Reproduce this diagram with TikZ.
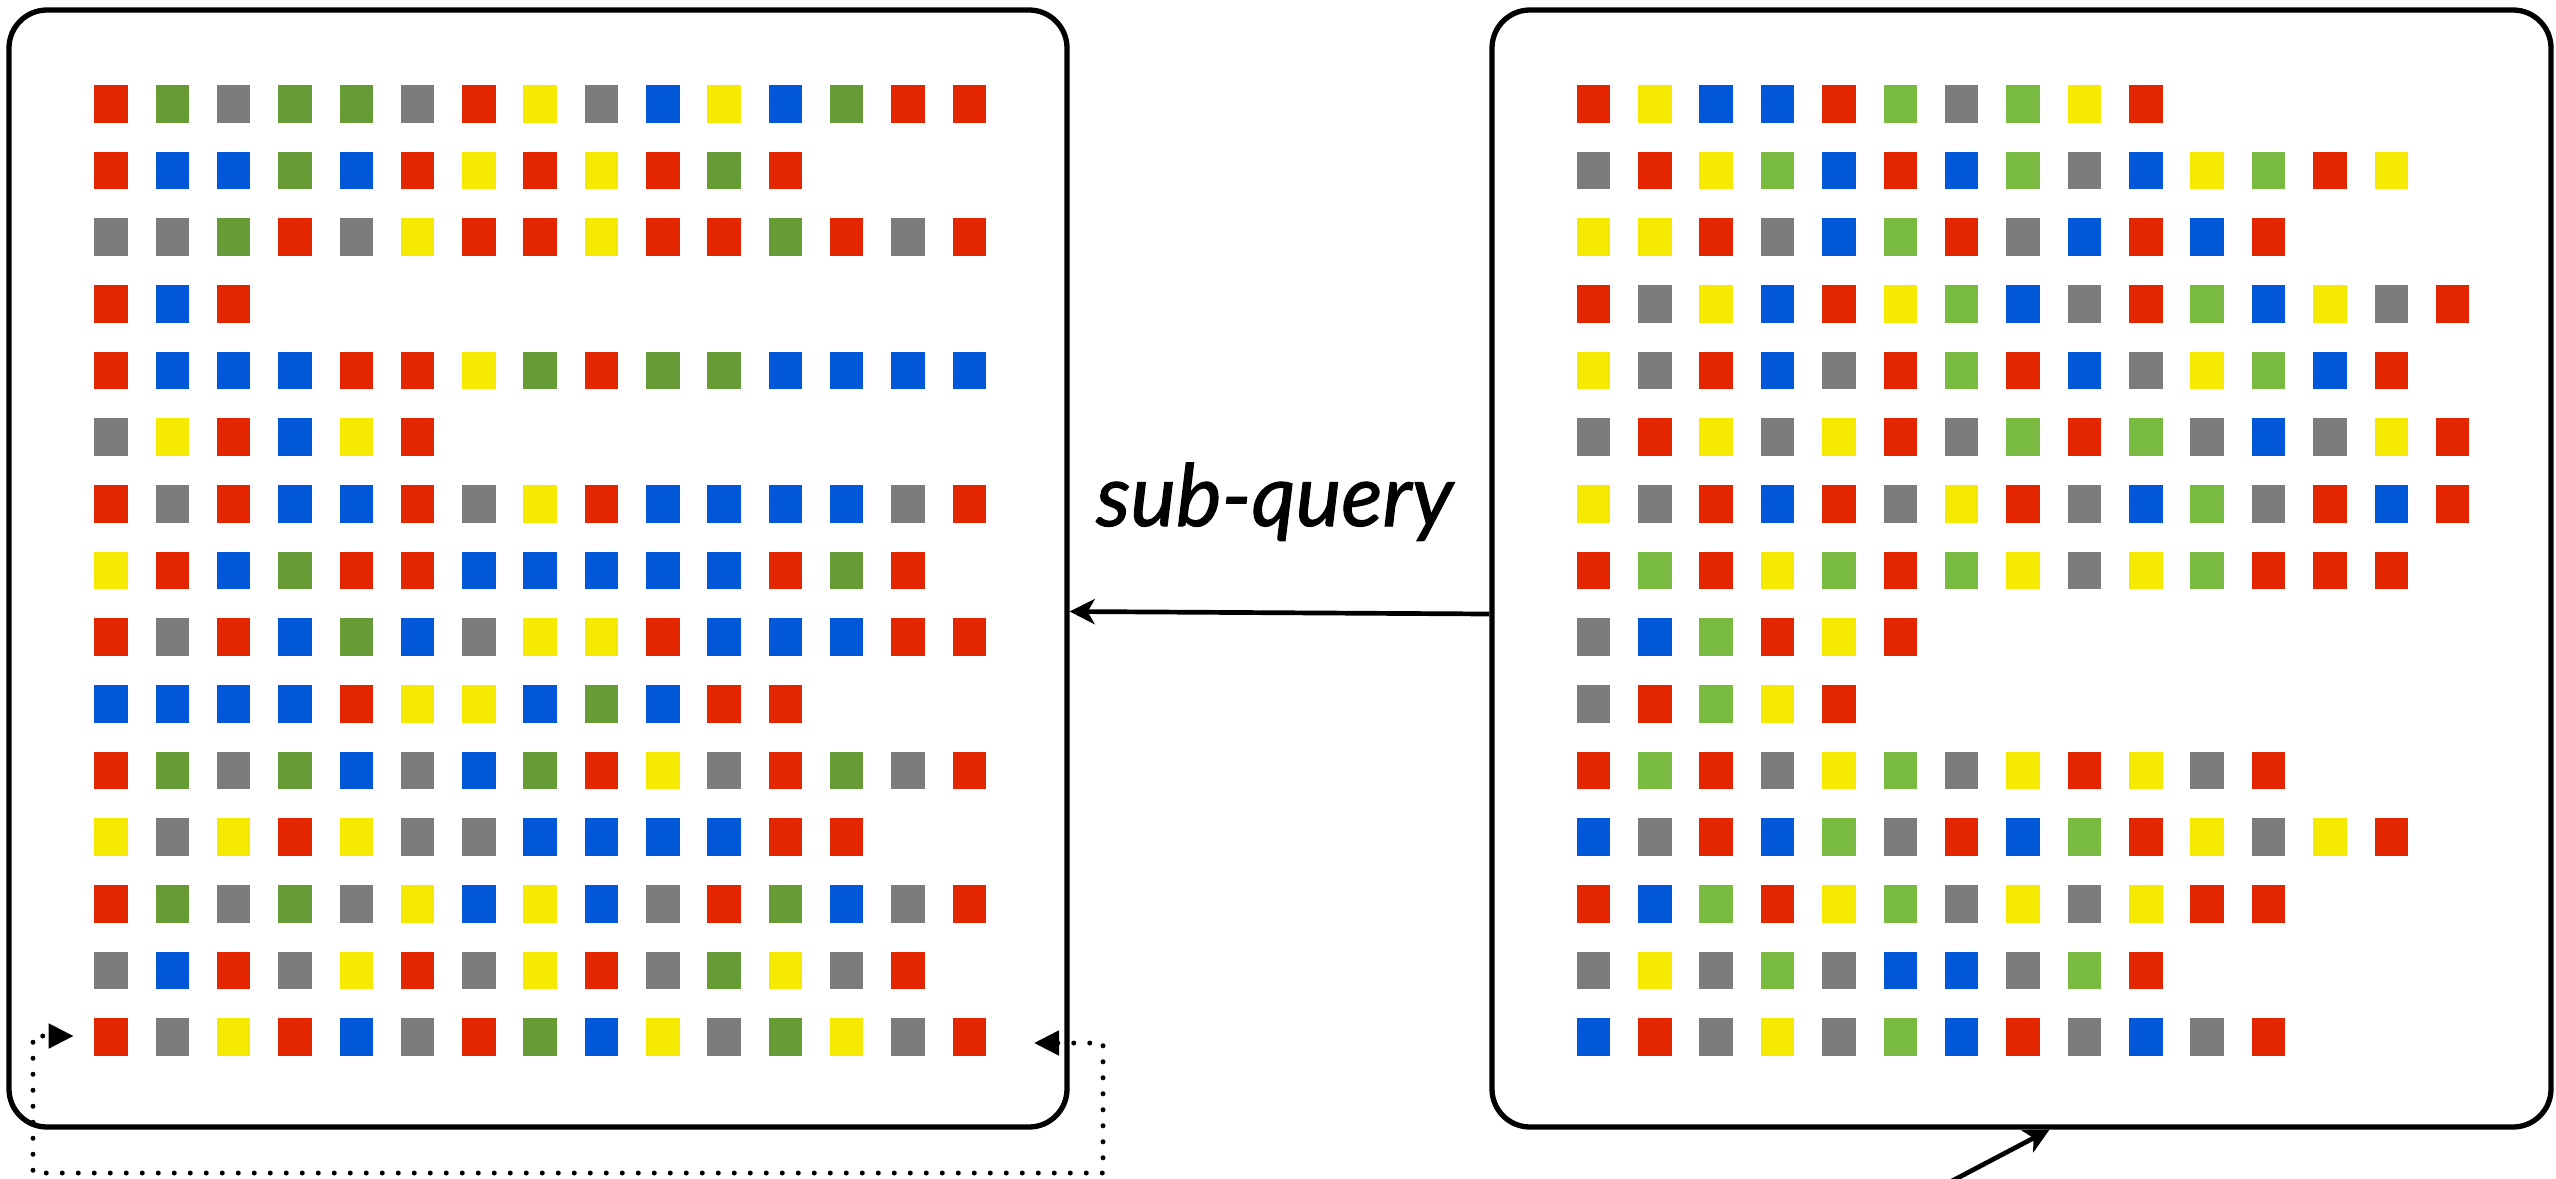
\documentclass[tikz,border=0pt]{standalone}
\usepackage{fontspec}
\setmainfont{Lato}
\usetikzlibrary{arrows.meta}
\definecolor{lR}{RGB}{227,38,0}
\definecolor{lG}{RGB}{103,155,54}
\definecolor{lK}{RGB}{123,123,123}
\definecolor{lB}{RGB}{0,88,217}
\definecolor{lY}{RGB}{246,235,0}
\definecolor{rR}{RGB}{227,38,0}
\definecolor{rG}{RGB}{121,187,64}
\definecolor{rK}{RGB}{123,123,123}
\definecolor{rB}{RGB}{0,88,217}
\definecolor{rY}{RGB}{246,235,0}
\begin{document}
\begin{tikzpicture}[x=1pt,y=-1pt,
  sq/.style={minimum width=33.5pt,minimum height=37.7pt,inner sep=0pt,outer sep=0pt},
  panel/.style={draw=black,line width=5.3pt,rounded corners=38pt,inner sep=0pt},
  conn/.style={line width=4.7pt,-{Stealth[length=25pt,width=25pt,inset=7pt]}},
  loopline/.style={line width=5pt,line cap=round,dash pattern=on 0pt off 16pt,
    {Triangle[length=25pt,width=24pt]}-{Triangle[length=25pt,width=24pt]}}
]
\useasboundingbox (0,0) rectangle (2556,1178);
\clip (0,0) rectangle (2556,1178);
\fill[white] (0,0) rectangle (2556,1178);

\node[panel, minimum width=1058pt, minimum height=1117pt] (left) at (538,568.5) {};
\node[panel, minimum width=1059pt, minimum height=1117pt] (right) at (2021.5,568.5) {};

\foreach \rowlist [count=\ri] in {
{R,G,K,G,G,K,R,Y,K,B,Y,B,G,R,R},
{R,B,B,G,B,R,Y,R,Y,R,G,R},
{K,K,G,R,K,Y,R,R,Y,R,R,G,R,K,R},
{R,B,R},
{R,B,B,B,R,R,Y,G,R,G,G,B,B,B,B},
{K,Y,R,B,Y,R},
{R,K,R,B,B,R,K,Y,R,B,B,B,B,K,R},
{Y,R,B,G,R,R,B,B,B,B,B,R,G,R},
{R,K,R,B,G,B,K,Y,Y,R,B,B,B,R,R},
{B,B,B,B,R,Y,Y,B,G,B,R,R},
{R,G,K,G,B,K,B,G,R,Y,K,R,G,K,R},
{Y,K,Y,R,Y,K,K,B,B,B,B,R,R},
{R,G,K,G,K,Y,B,Y,B,K,R,G,B,K,R},
{K,B,R,K,Y,R,K,Y,R,K,G,Y,K,R},
{R,K,Y,R,B,K,R,G,B,Y,K,G,Y,K,R}}{
  \foreach \col [count=\ci] in \rowlist {
    \node[sq, fill=l\col] (L\ri-\ci) at ({111.05+61.3*(\ci-1)},{103.85+66.66*(\ri-1)}) {};
  }
}

\foreach \rowlist [count=\ri] in {
{R,Y,B,B,R,G,K,G,Y,R},
{K,R,Y,G,B,R,B,G,K,B,Y,G,R,Y},
{Y,Y,R,K,B,G,R,K,B,R,B,R},
{R,K,Y,B,R,Y,G,B,K,R,G,B,Y,K,R},
{Y,K,R,B,K,R,G,R,B,K,Y,G,B,R},
{K,R,Y,K,Y,R,K,G,R,G,K,B,K,Y,R},
{Y,K,R,B,R,K,Y,R,K,B,G,K,R,B,R},
{R,G,R,Y,G,R,G,Y,K,Y,G,R,R,R},
{K,B,G,R,Y,R},
{K,R,G,Y,R},
{R,G,R,K,Y,G,K,Y,R,Y,K,R},
{B,K,R,B,G,K,R,B,G,R,Y,K,Y,R},
{R,B,G,R,Y,G,K,Y,K,Y,R,R},
{K,Y,K,G,K,B,B,K,G,R},
{B,R,K,Y,K,G,B,R,K,B,K,R}}{
  \foreach \col [count=\ci] in \rowlist {
    \node[sq, fill=r\col] (R\ri-\ci) at ({1593.45+61.37*(\ci-1)},{103.85+66.66*(\ri-1)}) {};
  }
}

\node[font=\itshape\fontsize{86}{100}\selectfont\addfontfeature{FakeBold=1.2}, inner sep=0pt, anchor=base] (lbl) at (1274.5,526) {sub-query};

\draw[conn] ([yshift=-45.5pt]right.west) -- ([yshift=-43pt]left.east);

\coordinate (lpA) at (1034,1043);
\coordinate (lpB) at (1103,1043);
\coordinate (lpC) at (1103,1173);
\coordinate (lpD) at (33,1173);
\coordinate (lpE) at (33,1036);
\coordinate (lpF) at (73.6,1036);
\draw[loopline] (lpA) -- (lpB) -- (lpC) -- (lpD) -- (lpE) -- (lpF);

\coordinate (btm) at (1950,1182);
\draw[conn] (btm) -- ([xshift=28pt]right.south);
\end{tikzpicture}
\end{document}
